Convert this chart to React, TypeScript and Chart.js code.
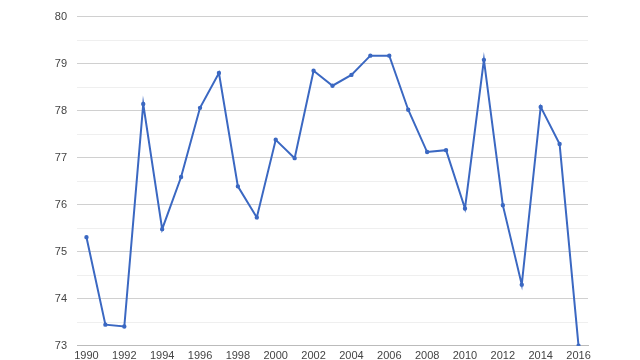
import React, { useEffect, useRef } from "react";
import { Chart, registerables } from "chart.js";

Chart.register(...registerables);

const years: string[] = [
  "1990", "1991", "1992", "1993", "1994", "1995", "1996", "1997", "1998", "1999",
  "2000", "2001", "2002", "2003", "2004", "2005", "2006", "2007", "2008", "2009",
  "2010", "2011", "2012", "2013", "2014", "2015", "2016",
];

const values: number[] = [
  75.31, 73.45, 73.41, 78.14, 75.48, 76.59, 78.06, 78.8, 76.39, 75.73,
  77.38, 76.99, 78.85, 78.53, 78.76, 79.17, 79.17, 78.02, 77.12, 77.16,
  75.92, 79.08, 75.99, 74.3, 78.08, 77.29, 73.0,
];

const yMin = 73;
const yMax = 80;

export default function App() {
  const ref = useRef<HTMLCanvasElement | null>(null);

  useEffect(() => {
    if (!ref.current) return;
    const chart = new Chart(ref.current, {
      type: "line",
      data: {
        labels: years,
        datasets: [
          {
            data: values,
            borderColor: "#3b68c2",
            backgroundColor: "#3b68c2",
            borderWidth: 2,
            pointRadius: 1.2,
            pointHoverRadius: 2,
            tension: 0,
          },
        ],
      },
      options: {
        animation: false,
        responsive: false,
        maintainAspectRatio: false,
        layout: { padding: { top: 10, right: 52, left: 1, bottom: 0 } },
        plugins: { legend: { display: false }, tooltip: { enabled: false } },
        scales: {
          x: {
            type: "category",
            offset: true,
            grid: { display: false, drawTicks: false },
            border: { display: true, color: "#bbb" },
            ticks: {
              autoSkip: false,
              maxRotation: 0,
              padding: 4,
              color: "#444",
              font: { family: "'Liberation Sans', Arial, sans-serif", size: 11 },
              callback: (v: any, i: number) => (i % 2 === 0 ? years[i] : ""),
            },
          },
          y: {
            min: yMin,
            max: yMax,
            afterFit: (s: any) => {
              s.width = 76;
            },
            grid: {
              drawTicks: false,
              color: (ctx: any) =>
                ctx.tick && Number.isInteger(ctx.tick.value) ? "#d0d0d0" : "#efefef",
            },
            border: { display: false },
            ticks: {
              stepSize: 0.5,
              autoSkip: false,
              padding: 10,
              color: "#444",
              font: { family: "'Liberation Sans', Arial, sans-serif", size: 11 },
              callback: (v: any) => (Number.isInteger(v) ? String(v) : ""),
            },
          },
        },
      },
    });
    return () => chart.destroy();
  }, []);

  return (
    <div style={{ position: "fixed", left: 0, top: 0, width: 640, height: 360, overflow: "hidden", background: "#fff" }}>
      <canvas ref={ref} width={640} height={367} style={{ width: 640, height: 367, display: "block" }} />
    </div>
  );
}
